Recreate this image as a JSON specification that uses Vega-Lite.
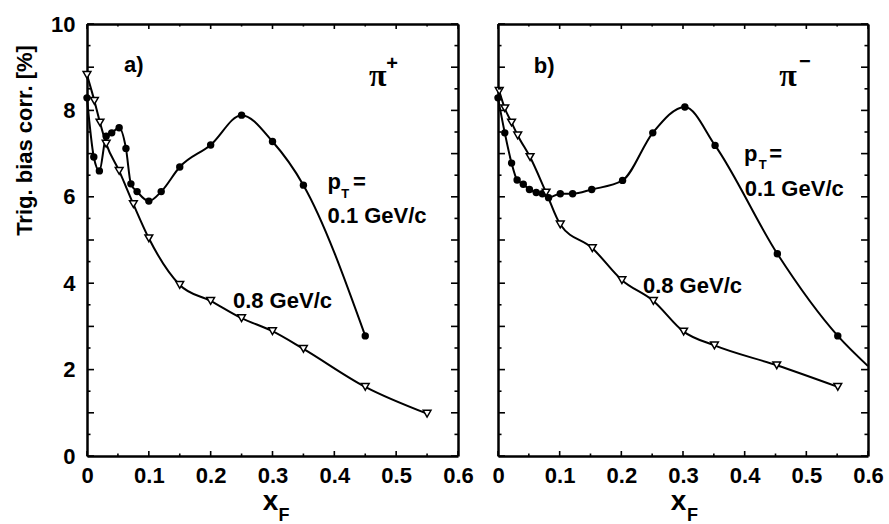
{
  "$schema": "https://vega.github.io/schema/vega-lite/v6.json",
  "background": "white",
  "padding": {"left": 12, "top": 13, "right": 5, "bottom": 0},
  "spacing": 40,
  "bounds": "flush",
  "config": {
    "view": {"stroke": null, "fill": null},
    "font": "Liberation Sans",
    "axis": {
      "grid": false,
      "domainColor": "black",
      "domainWidth": 2.5,
      "ticks": false,
      "labelColor": "black",
      "labelFont": "Liberation Sans",
      "labelFontWeight": "bold",
      "labelFontSize": 22,
      "titleColor": "black",
      "titleFont": "Liberation Sans",
      "titleFontWeight": "bold",
      "labelFlush": false,
      "labelOverlap": false
    },
    "rule": {"color": "black", "strokeWidth": 1.6},
    "text": {"font": "Liberation Sans", "fontWeight": "bold", "color": "black"}
  },
  "datasets": {
    "xticks": [
      {"t": 0.0, "major": true}, {"t": 0.05, "major": false}, {"t": 0.1, "major": true}, {"t": 0.15, "major": false},
      {"t": 0.2, "major": true}, {"t": 0.25, "major": false}, {"t": 0.3, "major": true}, {"t": 0.35, "major": false},
      {"t": 0.4, "major": true}, {"t": 0.45, "major": false}, {"t": 0.5, "major": true}, {"t": 0.55, "major": false},
      {"t": 0.6, "major": true}
    ],
    "yticks": [
      {"t": 0, "major": true}, {"t": 0.5, "major": false}, {"t": 1, "major": true}, {"t": 1.5, "major": false},
      {"t": 2, "major": true}, {"t": 2.5, "major": false}, {"t": 3, "major": true}, {"t": 3.5, "major": false},
      {"t": 4, "major": true}, {"t": 4.5, "major": false}, {"t": 5, "major": true}, {"t": 5.5, "major": false},
      {"t": 6, "major": true}, {"t": 6.5, "major": false}, {"t": 7, "major": true}, {"t": 7.5, "major": false},
      {"t": 8, "major": true}, {"t": 8.5, "major": false}, {"t": 9, "major": true}, {"t": 9.5, "major": false},
      {"t": 10, "major": true}
    ],
    "a": [
      {"xF": 0.0, "bias": 8.29, "series": "0.1"},
      {"xF": 0.011, "bias": 6.92, "series": "0.1"},
      {"xF": 0.02, "bias": 6.6, "series": "0.1"},
      {"xF": 0.031, "bias": 7.4, "series": "0.1"},
      {"xF": 0.04, "bias": 7.48, "series": "0.1"},
      {"xF": 0.052, "bias": 7.6, "series": "0.1"},
      {"xF": 0.063, "bias": 7.12, "series": "0.1"},
      {"xF": 0.071, "bias": 6.3, "series": "0.1"},
      {"xF": 0.081, "bias": 6.12, "series": "0.1"},
      {"xF": 0.1, "bias": 5.9, "series": "0.1"},
      {"xF": 0.12, "bias": 6.12, "series": "0.1"},
      {"xF": 0.15, "bias": 6.69, "series": "0.1"},
      {"xF": 0.2, "bias": 7.2, "series": "0.1"},
      {"xF": 0.25, "bias": 7.89, "series": "0.1"},
      {"xF": 0.3, "bias": 7.28, "series": "0.1"},
      {"xF": 0.35, "bias": 6.27, "series": "0.1"},
      {"xF": 0.45, "bias": 2.78, "series": "0.1"},
      {"xF": 0.0, "bias": 8.82, "series": "0.8"},
      {"xF": 0.012, "bias": 8.22, "series": "0.8"},
      {"xF": 0.021, "bias": 7.72, "series": "0.8"},
      {"xF": 0.031, "bias": 7.23, "series": "0.8"},
      {"xF": 0.052, "bias": 6.6, "series": "0.8"},
      {"xF": 0.075, "bias": 5.83, "series": "0.8"},
      {"xF": 0.1, "bias": 5.04, "series": "0.8"},
      {"xF": 0.15, "bias": 3.96, "series": "0.8"},
      {"xF": 0.2, "bias": 3.59, "series": "0.8"},
      {"xF": 0.25, "bias": 3.19, "series": "0.8"},
      {"xF": 0.3, "bias": 2.89, "series": "0.8"},
      {"xF": 0.35, "bias": 2.48, "series": "0.8"},
      {"xF": 0.45, "bias": 1.6, "series": "0.8"},
      {"xF": 0.55, "bias": 0.98, "series": "0.8"}
    ],
    "b": [
      {"xF": 0.0, "bias": 8.29, "series": "0.1", "measured": true},
      {"xF": 0.011, "bias": 7.48, "series": "0.1", "measured": true},
      {"xF": 0.022, "bias": 6.78, "series": "0.1", "measured": true},
      {"xF": 0.031, "bias": 6.39, "series": "0.1", "measured": true},
      {"xF": 0.041, "bias": 6.29, "series": "0.1", "measured": true},
      {"xF": 0.051, "bias": 6.17, "series": "0.1", "measured": true},
      {"xF": 0.062, "bias": 6.1, "series": "0.1", "measured": true},
      {"xF": 0.072, "bias": 6.07, "series": "0.1", "measured": true},
      {"xF": 0.082, "bias": 5.98, "series": "0.1", "measured": true},
      {"xF": 0.101, "bias": 6.07, "series": "0.1", "measured": true},
      {"xF": 0.121, "bias": 6.07, "series": "0.1", "measured": true},
      {"xF": 0.152, "bias": 6.17, "series": "0.1", "measured": true},
      {"xF": 0.202, "bias": 6.38, "series": "0.1", "measured": true},
      {"xF": 0.251, "bias": 7.48, "series": "0.1", "measured": true},
      {"xF": 0.303, "bias": 8.08, "series": "0.1", "measured": true},
      {"xF": 0.352, "bias": 7.19, "series": "0.1", "measured": true},
      {"xF": 0.453, "bias": 4.68, "series": "0.1", "measured": true},
      {"xF": 0.551, "bias": 2.78, "series": "0.1", "measured": true},
      {"xF": 0.6, "bias": 2.08, "series": "0.1", "measured": false},
      {"xF": 0.002, "bias": 8.45, "series": "0.8", "measured": true},
      {"xF": 0.011, "bias": 8.05, "series": "0.8", "measured": true},
      {"xF": 0.022, "bias": 7.72, "series": "0.8", "measured": true},
      {"xF": 0.032, "bias": 7.42, "series": "0.8", "measured": true},
      {"xF": 0.052, "bias": 6.92, "series": "0.8", "measured": true},
      {"xF": 0.078, "bias": 6.1, "series": "0.8", "measured": true},
      {"xF": 0.101, "bias": 5.36, "series": "0.8", "measured": true},
      {"xF": 0.153, "bias": 4.81, "series": "0.8", "measured": true},
      {"xF": 0.201, "bias": 4.07, "series": "0.8", "measured": true},
      {"xF": 0.252, "bias": 3.59, "series": "0.8", "measured": true},
      {"xF": 0.301, "bias": 2.88, "series": "0.8", "measured": true},
      {"xF": 0.351, "bias": 2.56, "series": "0.8", "measured": true},
      {"xF": 0.452, "bias": 2.1, "series": "0.8", "measured": true},
      {"xF": 0.551, "bias": 1.6, "series": "0.8", "measured": true}
    ]
  },
  "hconcat": [
    {
      "width": 371,
      "height": 432,
      "data": {"name": "a"},
      "resolve": {"axis": {"x": "independent", "y": "independent"}},
      "layer": [
        {
          "mark": {"type": "line", "interpolate": "monotone", "color": "black", "strokeWidth": 2},
          "encoding": {
            "x": {"field": "xF", "type": "quantitative", "scale": {"domain": [0, 0.6], "nice": false},
              "axis": {"orient": "bottom", "values": [0,0.1,0.2,0.3,0.4,0.5,0.6], "format": ".1~f",
                "labelPadding": 9, "title": "x", "titleFontSize": 28, "titleBaseline": "alphabetic", "titleY": 53, "titleX": 183}},
            "y": {"field": "bias", "type": "quantitative", "scale": {"domain": [0, 10], "nice": false},
              "axis": {"orient": "left", "values": [0,2,4,6,8,10], "format": "d",
                "labelPadding": 12, "title": "Trig. bias corr. [%]", "titleFontSize": 22, "titleBaseline": "alphabetic", "titleX": -56, "titleY": 116, "titleAlign": "center"}},
            "detail": {"field": "series"}
          }
        },
        {
          "transform": [{"filter": "datum.series === '0.1'"}],
          "mark": {"type": "point", "shape": "circle", "filled": true, "color": "black", "opacity": 1, "size": 55},
          "encoding": {
            "x": {"field": "xF", "type": "quantitative", "scale": {"domain": [0, 0.6], "nice": false},
              "axis": {"orient": "top", "labels": false, "title": null, "domain": true}},
            "y": {"field": "bias", "type": "quantitative", "scale": {"domain": [0, 10], "nice": false},
              "axis": {"orient": "right", "labels": false, "title": null, "domain": true}}
          }
        },
        {
          "transform": [{"filter": "datum.series === '0.8'"}],
          "mark": {"type": "point", "shape": "triangle-down", "filled": false, "fill": "white", "stroke": "black", "strokeWidth": 1.5, "opacity": 1, "size": 60},
          "encoding": {
            "x": {"field": "xF", "type": "quantitative", "axis": null},
            "y": {"field": "bias", "type": "quantitative", "axis": null}
          }
        },
        {
          "data": {"name": "xticks"},
          "transform": [{"filter": "datum.major"}],
          "layer": [
            {"mark": "rule", "encoding": {"x": {"field": "t", "type": "quantitative", "axis": null}, "y": {"datum": 0, "type": "quantitative", "axis": null}, "y2": {"datum": 0.116}}},
            {"mark": "rule", "encoding": {"x": {"field": "t", "type": "quantitative", "axis": null}, "y": {"datum": 10, "type": "quantitative", "axis": null}, "y2": {"datum": 9.884}}}
          ]
        },
        {
          "data": {"name": "xticks"},
          "transform": [{"filter": "!datum.major"}],
          "layer": [
            {"mark": "rule", "encoding": {"x": {"field": "t", "type": "quantitative", "axis": null}, "y": {"datum": 0, "type": "quantitative", "axis": null}, "y2": {"datum": 0.058}}},
            {"mark": "rule", "encoding": {"x": {"field": "t", "type": "quantitative", "axis": null}, "y": {"datum": 10, "type": "quantitative", "axis": null}, "y2": {"datum": 9.942}}}
          ]
        },
        {
          "data": {"name": "yticks"},
          "transform": [{"filter": "datum.major"}],
          "layer": [
            {"mark": "rule", "encoding": {"y": {"field": "t", "type": "quantitative", "axis": null}, "x": {"datum": 0, "type": "quantitative", "axis": null}, "x2": {"datum": 0.0113}}},
            {"mark": "rule", "encoding": {"y": {"field": "t", "type": "quantitative", "axis": null}, "x": {"datum": 0.6, "type": "quantitative", "axis": null}, "x2": {"datum": 0.5887}}}
          ]
        },
        {
          "data": {"name": "yticks"},
          "transform": [{"filter": "!datum.major"}],
          "layer": [
            {"mark": "rule", "encoding": {"y": {"field": "t", "type": "quantitative", "axis": null}, "x": {"datum": 0, "type": "quantitative", "axis": null}, "x2": {"datum": 0.0057}}},
            {"mark": "rule", "encoding": {"y": {"field": "t", "type": "quantitative", "axis": null}, "x": {"datum": 0.6, "type": "quantitative", "axis": null}, "x2": {"datum": 0.5943}}}
          ]
        },
        {
          "data": {"values": [
            {"xF": 0.06, "bias": 8.9, "label": "a)"},
            {"xF": 0.389, "bias": 6.18, "label": "p"},
            {"xF": 0.43, "bias": 6.18, "label": "="},
            {"xF": 0.389, "bias": 5.39, "label": "0.1 GeV/c"},
            {"xF": 0.236, "bias": 3.43, "label": "0.8 GeV/c"}
          ]},
          "mark": {"type": "text", "align": "left", "baseline": "alphabetic", "fontSize": 22},
          "encoding": {
            "x": {"field": "xF", "type": "quantitative", "axis": null},
            "y": {"field": "bias", "type": "quantitative", "axis": null},
            "text": {"field": "label"}
          }
        },
        {
          "data": {"values": [{"xF": 0.411, "bias": 5.97, "label": "T"}]},
          "mark": {"type": "text", "align": "left", "baseline": "alphabetic", "fontSize": 13},
          "encoding": {
            "x": {"field": "xF", "type": "quantitative", "axis": null},
            "y": {"field": "bias", "type": "quantitative", "axis": null},
            "text": {"field": "label"}
          }
        },
        {
          "data": {"values": [{"xF": 0.456, "bias": 8.56, "label": "π"}]},
          "mark": {"type": "text", "align": "left", "baseline": "alphabetic", "fontSize": 32, "font": "Liberation Serif"},
          "encoding": {
            "x": {"field": "xF", "type": "quantitative", "axis": null},
            "y": {"field": "bias", "type": "quantitative", "axis": null},
            "text": {"field": "label"}
          }
        },
        {
          "data": {"values": [{"xF": 0.484, "bias": 8.94, "label": "+"}]},
          "mark": {"type": "text", "align": "left", "baseline": "alphabetic", "fontSize": 20},
          "encoding": {
            "x": {"field": "xF", "type": "quantitative", "axis": null},
            "y": {"field": "bias", "type": "quantitative", "axis": null},
            "text": {"field": "label"}
          }
        },
        {
          "data": {"values": [{"xF": 0.3, "bias": 0, "label": "F"}]},
          "mark": {"type": "text", "align": "left", "baseline": "alphabetic", "fontSize": 18, "dx": 6, "dy": 65},
          "encoding": {
            "x": {"field": "xF", "type": "quantitative", "axis": null},
            "y": {"field": "bias", "type": "quantitative", "axis": null},
            "text": {"field": "label"}
          }
        }
      ]
    },
    {
      "width": 370,
      "height": 432,
      "data": {"name": "b"},
      "resolve": {"axis": {"x": "independent", "y": "independent"}},
      "layer": [
        {
          "mark": {"type": "line", "interpolate": "monotone", "color": "black", "strokeWidth": 2},
          "encoding": {
            "x": {"field": "xF", "type": "quantitative", "scale": {"domain": [0, 0.6], "nice": false},
              "axis": {"orient": "bottom", "values": [0,0.1,0.2,0.3,0.4,0.5,0.6], "format": ".1~f",
                "labelPadding": 9, "title": "x", "titleFontSize": 28, "titleBaseline": "alphabetic", "titleY": 53, "titleX": 180}},
            "y": {"field": "bias", "type": "quantitative", "scale": {"domain": [0, 10], "nice": false},
              "axis": {"orient": "left", "labels": false, "title": null}},
            "detail": {"field": "series"}
          }
        },
        {
          "transform": [{"filter": "datum.series === '0.1' && datum.measured"}],
          "mark": {"type": "point", "shape": "circle", "filled": true, "color": "black", "opacity": 1, "size": 55},
          "encoding": {
            "x": {"field": "xF", "type": "quantitative", "scale": {"domain": [0, 0.6], "nice": false},
              "axis": {"orient": "top", "labels": false, "title": null, "domain": true}},
            "y": {"field": "bias", "type": "quantitative", "scale": {"domain": [0, 10], "nice": false},
              "axis": {"orient": "right", "labels": false, "title": null, "domain": true}}
          }
        },
        {
          "transform": [{"filter": "datum.series === '0.8'"}],
          "mark": {"type": "point", "shape": "triangle-down", "filled": false, "fill": "white", "stroke": "black", "strokeWidth": 1.5, "opacity": 1, "size": 60},
          "encoding": {
            "x": {"field": "xF", "type": "quantitative", "axis": null},
            "y": {"field": "bias", "type": "quantitative", "axis": null}
          }
        },
        {
          "data": {"name": "xticks"},
          "transform": [{"filter": "datum.major"}],
          "layer": [
            {"mark": "rule", "encoding": {"x": {"field": "t", "type": "quantitative", "axis": null}, "y": {"datum": 0, "type": "quantitative", "axis": null}, "y2": {"datum": 0.116}}},
            {"mark": "rule", "encoding": {"x": {"field": "t", "type": "quantitative", "axis": null}, "y": {"datum": 10, "type": "quantitative", "axis": null}, "y2": {"datum": 9.884}}}
          ]
        },
        {
          "data": {"name": "xticks"},
          "transform": [{"filter": "!datum.major"}],
          "layer": [
            {"mark": "rule", "encoding": {"x": {"field": "t", "type": "quantitative", "axis": null}, "y": {"datum": 0, "type": "quantitative", "axis": null}, "y2": {"datum": 0.058}}},
            {"mark": "rule", "encoding": {"x": {"field": "t", "type": "quantitative", "axis": null}, "y": {"datum": 10, "type": "quantitative", "axis": null}, "y2": {"datum": 9.942}}}
          ]
        },
        {
          "data": {"name": "yticks"},
          "transform": [{"filter": "datum.major"}],
          "layer": [
            {"mark": "rule", "encoding": {"y": {"field": "t", "type": "quantitative", "axis": null}, "x": {"datum": 0, "type": "quantitative", "axis": null}, "x2": {"datum": 0.0113}}},
            {"mark": "rule", "encoding": {"y": {"field": "t", "type": "quantitative", "axis": null}, "x": {"datum": 0.6, "type": "quantitative", "axis": null}, "x2": {"datum": 0.5887}}}
          ]
        },
        {
          "data": {"name": "yticks"},
          "transform": [{"filter": "!datum.major"}],
          "layer": [
            {"mark": "rule", "encoding": {"y": {"field": "t", "type": "quantitative", "axis": null}, "x": {"datum": 0, "type": "quantitative", "axis": null}, "x2": {"datum": 0.0057}}},
            {"mark": "rule", "encoding": {"y": {"field": "t", "type": "quantitative", "axis": null}, "x": {"datum": 0.6, "type": "quantitative", "axis": null}, "x2": {"datum": 0.5943}}}
          ]
        },
        {
          "data": {"values": [
            {"xF": 0.058, "bias": 8.87, "label": "b)"},
            {"xF": 0.399, "bias": 6.83, "label": "p"},
            {"xF": 0.44, "bias": 6.83, "label": "="},
            {"xF": 0.4, "bias": 6.02, "label": "0.1 GeV/c"},
            {"xF": 0.235, "bias": 3.77, "label": "0.8 GeV/c"}
          ]},
          "mark": {"type": "text", "align": "left", "baseline": "alphabetic", "fontSize": 22},
          "encoding": {
            "x": {"field": "xF", "type": "quantitative", "axis": null},
            "y": {"field": "bias", "type": "quantitative", "axis": null},
            "text": {"field": "label"}
          }
        },
        {
          "data": {"values": [{"xF": 0.423, "bias": 6.64, "label": "T"}]},
          "mark": {"type": "text", "align": "left", "baseline": "alphabetic", "fontSize": 13},
          "encoding": {
            "x": {"field": "xF", "type": "quantitative", "axis": null},
            "y": {"field": "bias", "type": "quantitative", "axis": null},
            "text": {"field": "label"}
          }
        },
        {
          "data": {"values": [{"xF": 0.456, "bias": 8.56, "label": "π"}]},
          "mark": {"type": "text", "align": "left", "baseline": "alphabetic", "fontSize": 32, "font": "Liberation Serif"},
          "encoding": {
            "x": {"field": "xF", "type": "quantitative", "axis": null},
            "y": {"field": "bias", "type": "quantitative", "axis": null},
            "text": {"field": "label"}
          }
        },
        {
          "data": {"values": [{"xF": 0.488, "bias": 8.98, "label": "−"}]},
          "mark": {"type": "text", "align": "left", "baseline": "alphabetic", "fontSize": 20},
          "encoding": {
            "x": {"field": "xF", "type": "quantitative", "axis": null},
            "y": {"field": "bias", "type": "quantitative", "axis": null},
            "text": {"field": "label"}
          }
        },
        {
          "data": {"values": [{"xF": 0.3, "bias": 0, "label": "F"}]},
          "mark": {"type": "text", "align": "left", "baseline": "alphabetic", "fontSize": 18, "dx": 4, "dy": 65},
          "encoding": {
            "x": {"field": "xF", "type": "quantitative", "axis": null},
            "y": {"field": "bias", "type": "quantitative", "axis": null},
            "text": {"field": "label"}
          }
        }
      ]
    }
  ]
}
